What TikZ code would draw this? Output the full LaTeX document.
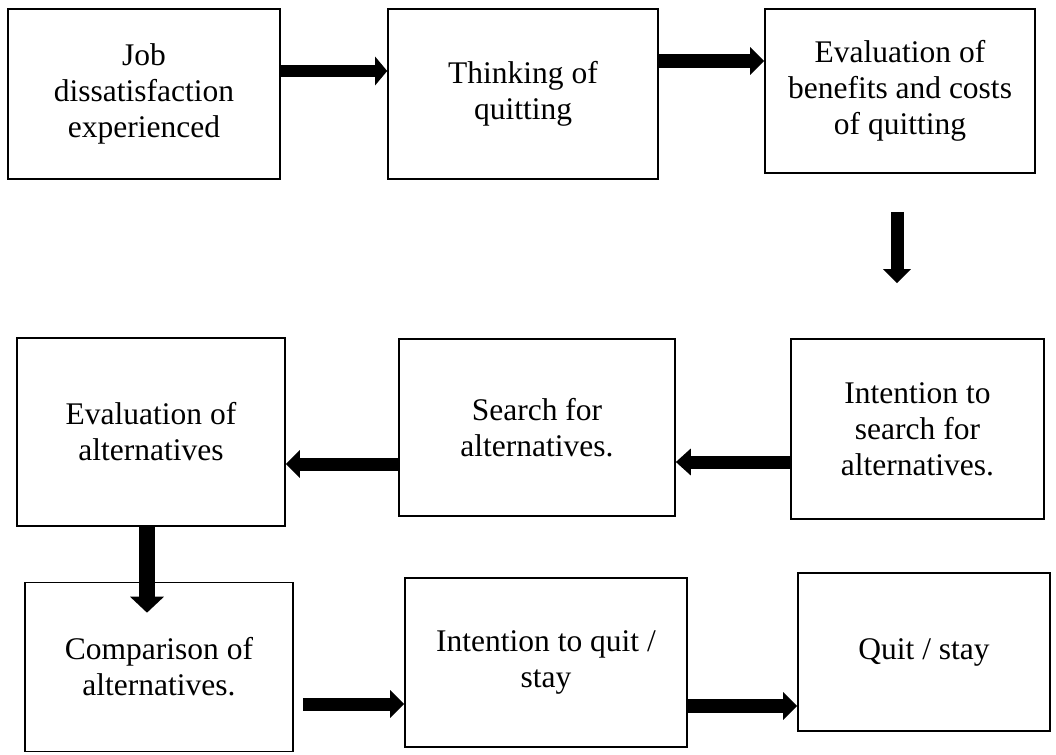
\documentclass[tikz,border=0pt]{standalone}
\usepackage{fontspec}
\setmainfont{Liberation Serif}
\usetikzlibrary{arrows.meta,calc}
\begin{document}
\begin{tikzpicture}[x=1pt,y=-1pt,
  box/.style={draw, line width=1.6pt, rectangle, inner sep=0pt, align=center,
    font=\fontsize{31.5}{36}\selectfont},
  flow/.style={line width=13pt, line cap=butt, -{Triangle[length=14pt,width=27pt]}},
]
\useasboundingbox (0,0) rectangle (1056,754);
\node[box, minimum width=272pt, minimum height=170pt] (b1) at (144,94) {Job\\dissatisfaction\\experienced};
\node[box, minimum width=270pt, minimum height=170pt] (b2) at (523,94) {Thinking of\\quitting};
\node[box, minimum width=270pt, minimum height=164pt] (b3) at (900,91) {Evaluation of\\benefits and costs\\of quitting};
\node[box, minimum width=253pt, minimum height=180pt] (b4) at (917.5,429) {Intention to\\search for\\alternatives.};
\node[box, minimum width=276pt, minimum height=177pt] (b5) at (537,427.5) {Search for\\alternatives.};
\node[box, minimum width=268pt, minimum height=188pt] (b6) at (151,432) {Evaluation of\\alternatives};
\node[box, minimum width=268pt, minimum height=169pt] (b7) at (159,667) {Comparison of\\alternatives.};
\node[box, minimum width=282pt, minimum height=169pt] (b8) at (546,662.5) {Intention to quit /\\stay};
\node[box, minimum width=252pt, minimum height=158pt] (b9) at (924,652) {Quit / stay};

\draw[flow, line width=12pt, -{Triangle[length=12pt,width=28pt]}] ($(b1.east)+(0,-23)$) coordinate (t1) -- (t1 -| b2.west);
\draw[flow, line width=14pt] ($(b2.east)+(0,-33)$) coordinate (t2) -- (t2 -| b3.west);
\coordinate (d1s) at ($(b3.south)+(-3,38)$);
\coordinate (d1e) at ($(b4.north)+(-20.5,-55)$);
\draw[flow] (d1s) -- (d1e);
\draw[flow, -{Triangle[length=15pt,width=26pt]}] ($(b4.west)+(0,33)$) coordinate (t3) -- (t3 -| b5.east);
\draw[flow] ($(b5.west)+(0,36.5)$) coordinate (t4) -- (t4 -| b6.east);
\coordinate (d2e) at ($(b7.north)+(-12,31)$);
\draw[flow, line width=16pt, -{Triangle[length=16pt,width=33pt]}] (b6.south -| d2e) -- (d2e);
\draw[flow] ($(b7.east)+(9,37)$) coordinate (t5) -- (t5 -| b8.west);
\draw[flow, line width=14pt] ($(b8.east)+(0,43.5)$) coordinate (t6) -- (t6 -| b9.west);
\end{tikzpicture}
\end{document}
